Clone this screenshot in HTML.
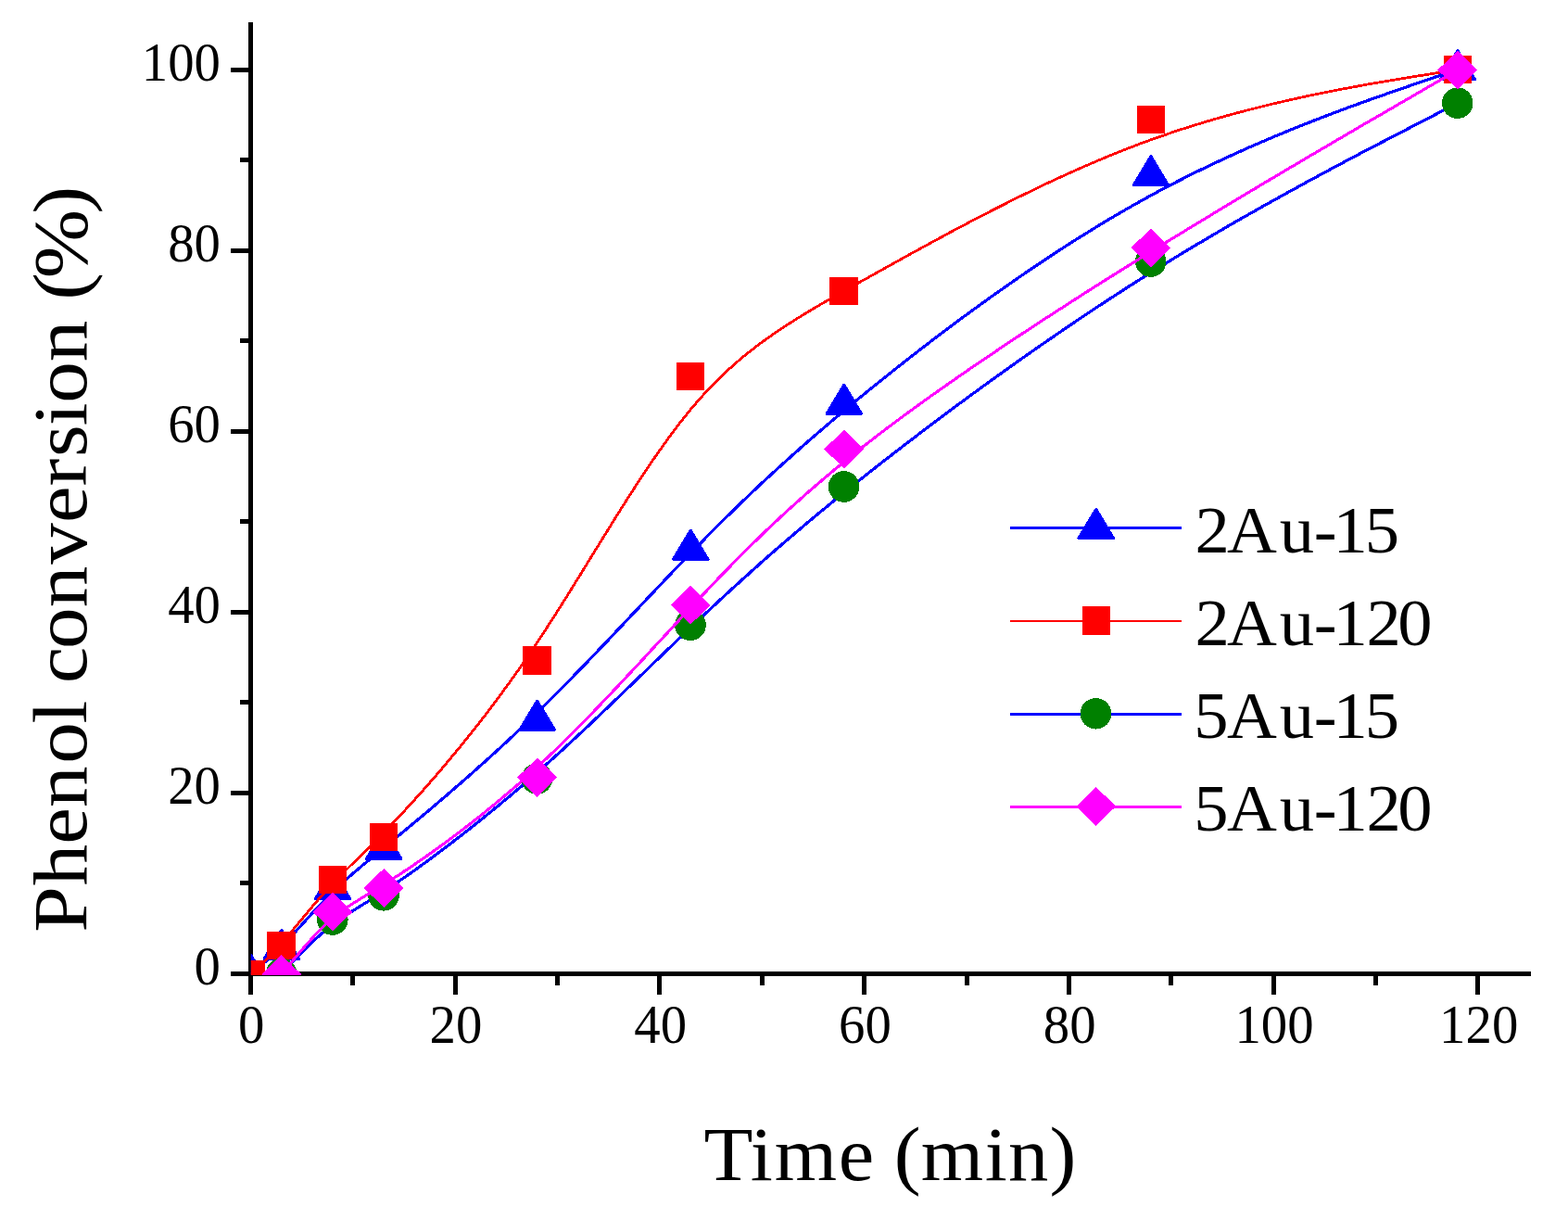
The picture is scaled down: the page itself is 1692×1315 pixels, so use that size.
<!DOCTYPE html>
<html lang="en">
<head>
<meta charset="utf-8">
<title>Phenol conversion vs time</title>
<style>
html,body{margin:0;padding:0;background:#fff;}
body{width:1692px;height:1315px;overflow:hidden;}
svg{display:block;}
text{font-family:"Liberation Serif",serif;fill:#000;}
</style>
</head>
<body>
<svg width="1692" height="1315" viewBox="0 0 1692 1315">
<rect width="1692" height="1315" fill="#fff"/>
<defs><clipPath id="plot"><rect x="270.8" y="0" width="1400" height="1052"/></clipPath></defs>

<g id="axes" stroke="#000" stroke-width="5" fill="none" stroke-linecap="butt" shape-rendering="crispEdges">
<path d="M270.5 24V1072.5"/>
<path d="M249 1050.5H1652"/>
<path d="M380.5 1050.5V1062.5"/>
<path d="M491.5 1050.5V1072.5"/>
<path d="M601.5 1050.5V1062.5"/>
<path d="M711.5 1050.5V1072.5"/>
<path d="M822.5 1050.5V1062.5"/>
<path d="M932.5 1050.5V1072.5"/>
<path d="M1043.5 1050.5V1062.5"/>
<path d="M1153.5 1050.5V1072.5"/>
<path d="M1263.5 1050.5V1062.5"/>
<path d="M1374.5 1050.5V1072.5"/>
<path d="M1484.5 1050.5V1062.5"/>
<path d="M1594.5 1050.5V1072.5"/>
<path d="M259 952.5H270.5"/>
<path d="M249 855.5H270.5"/>
<path d="M259 757.5H270.5"/>
<path d="M249 660.5H270.5"/>
<path d="M259 562.5H270.5"/>
<path d="M249 465.5H270.5"/>
<path d="M259 367.5H270.5"/>
<path d="M249 270.5H270.5"/>
<path d="M259 172.5H270.5"/>
<path d="M249 75.5H270.5"/>
</g>
<g id="xticks" font-size="58.5" text-anchor="middle">
<text x="271.2" y="1125" textLength="28.4" lengthAdjust="spacingAndGlyphs">0</text>
<text x="491.9" y="1125" textLength="56.8" lengthAdjust="spacingAndGlyphs">20</text>
<text x="712.7" y="1125" textLength="56.8" lengthAdjust="spacingAndGlyphs">40</text>
<text x="933.4" y="1125" textLength="56.8" lengthAdjust="spacingAndGlyphs">60</text>
<text x="1154.2" y="1125" textLength="56.8" lengthAdjust="spacingAndGlyphs">80</text>
<text x="1375.0" y="1125" textLength="85.2" lengthAdjust="spacingAndGlyphs">100</text>
<text x="1595.7" y="1125" textLength="85.2" lengthAdjust="spacingAndGlyphs">120</text>
</g>
<g id="yticks" font-size="58.5" text-anchor="end">
<text x="238" y="1061.8" textLength="28.4" lengthAdjust="spacingAndGlyphs">0</text>
<text x="238" y="866.8" textLength="56.8" lengthAdjust="spacingAndGlyphs">20</text>
<text x="238" y="671.8" textLength="56.8" lengthAdjust="spacingAndGlyphs">40</text>
<text x="238" y="476.8" textLength="56.8" lengthAdjust="spacingAndGlyphs">60</text>
<text x="238" y="281.8" textLength="56.8" lengthAdjust="spacingAndGlyphs">80</text>
<text x="238" y="86.8" textLength="85.2" lengthAdjust="spacingAndGlyphs">100</text>
</g>
<text id="xtitle" transform="translate(0 1273) scale(1.05 1)" font-size="82.5" x="723.3 771.1 795.9 861.7 898.3 918.9 946.4 1012.1 1036.2 1078.7" y="0">Time (min)</text>
<text id="ytitle" transform="translate(93.3 1004.1) rotate(-90) scale(1.08 1)" font-size="82.5" x="-1.6 44.9 86.4 123.3 167.1 207.1 230.0 247.1 281.6 323.1 366.1 407.5 444.2 473.2 504.4 527.2 568.4 609.7 629.9 651.7 716.4" y="0">Phenol conversion (%)</text>
<g id="data" clip-path="url(#plot)" shape-rendering="crispEdges">
<path d="M270.7 1050.5L270.7 1050.5L270.7 1050.5L270.7 1050.5L270.7 1050.5L270.7 1050.5L270.7 1050.5L270.8 1050.4L270.8 1050.4L270.9 1050.4L270.9 1050.3L271.0 1050.3L271.1 1050.2L271.2 1050.1L271.3 1050.0L271.4 1049.9L271.5 1049.8L271.7 1049.7L271.9 1049.5L272.1 1049.3L272.4 1049.2L272.6 1048.9L272.9 1048.7L273.2 1048.5L273.6 1048.2L273.9 1047.9L274.3 1047.5L274.8 1047.2L275.2 1046.8L275.7 1046.4L276.3 1046.0L276.8 1045.5L277.5 1045.0L278.1 1044.5L278.8 1043.9L279.5 1043.3L280.3 1042.7L281.1 1042.0L281.9 1041.3L282.7 1040.6L283.6 1039.8L284.6 1039.0L285.5 1038.2L286.5 1037.3L287.5 1036.4L288.6 1035.5L289.6 1034.5L290.8 1033.5L291.9 1032.5L293.1 1031.4L294.3 1030.3L295.5 1029.1L296.8 1027.9L298.0 1026.7L299.4 1025.4L300.7 1024.1L302.1 1022.7L303.5 1021.3L304.9 1019.9L306.3 1018.4L307.8 1016.9L309.3 1015.3L310.8 1013.7L312.3 1012.1L313.9 1010.4L315.5 1008.7L317.1 1006.9L318.7 1005.2L320.3 1003.4L322.0 1001.5L323.7 999.7L325.4 997.8L327.1 996.0L328.8 994.1L330.5 992.2L332.3 990.2L334.1 988.3L335.8 986.4L337.6 984.4L339.4 982.5L341.2 980.6L343.0 978.6L344.8 976.7L346.7 974.8L348.5 972.9L350.3 971.0L352.2 969.1L354.0 967.2L355.9 965.3L357.7 963.5L359.5 961.7L361.4 959.9L363.2 958.1L365.1 956.4L367.0 954.6L368.9 952.9L370.8 951.2L372.7 949.4L374.7 947.7L376.7 945.9L378.7 944.1L380.8 942.3L383.0 940.5L385.2 938.6L387.4 936.7L389.7 934.8L392.0 932.8L394.5 930.8L397.0 928.8L399.6 926.6L402.2 924.4L404.9 922.2L407.8 919.9L410.7 917.5L413.7 915.0L416.8 912.4L420.0 909.8L423.4 907.0L426.8 904.2L430.4 901.3L434.0 898.2L437.8 895.1L441.8 891.8L445.8 888.5L449.9 885.0L454.2 881.5L458.5 877.8L463.0 874.1L467.5 870.2L472.1 866.3L476.8 862.3L481.6 858.2L486.5 854.0L491.4 849.7L496.5 845.3L501.5 840.9L506.7 836.4L511.8 831.8L517.1 827.1L522.4 822.4L527.7 817.6L533.1 812.7L538.5 807.8L543.9 802.8L549.4 797.7L554.9 792.6L560.4 787.4L565.9 782.1L571.4 776.8L576.9 771.5L582.5 766.1L588.0 760.6L593.5 755.1L599.1 749.6L604.6 744.0L610.2 738.4L615.7 732.7L621.2 727.0L626.8 721.3L632.3 715.6L637.8 709.8L643.4 704.0L648.9 698.2L654.5 692.4L660.0 686.5L665.5 680.7L671.1 674.8L676.6 668.9L682.1 663.1L687.7 657.2L693.2 651.3L698.7 645.5L704.3 639.6L709.8 633.8L715.4 627.9L720.9 622.1L726.4 616.3L732.0 610.5L737.5 604.8L743.0 599.1L748.6 593.4L754.1 587.7L759.7 582.1L765.2 576.4L770.8 570.8L776.4 565.2L782.1 559.6L787.8 554.0L793.5 548.4L799.3 542.8L805.2 537.2L811.1 531.5L817.1 525.9L823.1 520.2L829.3 514.5L835.5 508.8L841.9 503.0L848.3 497.2L854.9 491.3L861.5 485.4L868.3 479.4L875.2 473.4L882.3 467.3L889.5 461.1L896.8 454.8L904.3 448.5L911.9 442.1L919.8 435.6L927.7 429.1L935.9 422.4L944.2 415.6L952.8 408.8L961.5 401.8L970.3 394.8L979.3 387.7L988.5 380.6L997.9 373.3L1007.3 366.1L1017.0 358.8L1026.7 351.5L1036.6 344.1L1046.6 336.8L1056.7 329.5L1066.9 322.1L1077.2 314.8L1087.6 307.5L1098.1 300.2L1108.7 292.9L1119.3 285.8L1130.0 278.6L1140.8 271.5L1151.6 264.5L1162.5 257.6L1173.5 250.8L1184.4 244.0L1195.4 237.4L1206.5 230.9L1217.5 224.5L1228.6 218.2L1239.7 212.1L1250.7 206.1L1261.8 200.3L1272.8 194.6L1283.8 189.0L1294.8 183.6L1305.7 178.4L1316.5 173.3L1327.3 168.3L1337.9 163.5L1348.4 158.8L1358.9 154.3L1369.1 149.9L1379.3 145.6L1389.2 141.5L1399.1 137.5L1408.7 133.7L1418.1 130.0L1427.3 126.4L1436.3 123.0L1445.1 119.7L1453.6 116.5L1461.9 113.5L1469.9 110.6L1477.6 107.8L1485.0 105.2L1492.1 102.7L1498.9 100.3L1505.3 98.1L1511.5 96.0L1517.2 94.0L1522.6 92.1L1527.6 90.4L1532.3 88.8L1536.7 87.3L1540.7 85.9L1544.4 84.6L1547.8 83.4L1551.0 82.4L1553.8 81.4L1556.4 80.5L1558.8 79.7L1560.9 78.9L1562.8 78.3L1564.5 77.7L1566.0 77.2L1567.3 76.8L1568.4 76.4L1569.4 76.0L1570.2 75.7L1570.9 75.5L1571.4 75.3L1571.9 75.2L1572.2 75.0L1572.5 75.0L1572.7 74.9L1572.8 74.8L1572.9 74.8L1572.9 74.8L1572.9 74.8L1572.9 74.8" fill="none" stroke="#0000ff" stroke-width="3.2" stroke-linejoin="round"/>
<path d="M270.7 1030.4L289.5 1061.5L251.9 1061.5Z" fill="#0000ff" stroke="#0000ff" stroke-width="3.0" stroke-linejoin="round"/>
<path d="M303.8 1003.4L322.6 1034.5L285.0 1034.5Z" fill="#0000ff" stroke="#0000ff" stroke-width="3.0" stroke-linejoin="round"/>
<path d="M359.0 938.5L377.8 969.6L340.2 969.6Z" fill="#0000ff" stroke="#0000ff" stroke-width="3.0" stroke-linejoin="round"/>
<path d="M414.2 895.4L433.0 926.5L395.4 926.5Z" fill="#0000ff" stroke="#0000ff" stroke-width="3.0" stroke-linejoin="round"/>
<path d="M579.7 756.1L598.5 787.2L560.9 787.2Z" fill="#0000ff" stroke="#0000ff" stroke-width="3.0" stroke-linejoin="round"/>
<path d="M745.2 572.2L764.0 603.3L726.4 603.3Z" fill="#0000ff" stroke="#0000ff" stroke-width="3.0" stroke-linejoin="round"/>
<path d="M910.8 415.2L929.6 446.3L892.0 446.3Z" fill="#0000ff" stroke="#0000ff" stroke-width="3.0" stroke-linejoin="round"/>
<path d="M1241.9 168.7L1260.7 199.8L1223.1 199.8Z" fill="#0000ff" stroke="#0000ff" stroke-width="3.0" stroke-linejoin="round"/>
<path d="M1572.9 54.7L1591.7 85.8L1554.1 85.8Z" fill="#0000ff" stroke="#0000ff" stroke-width="3.0" stroke-linejoin="round"/>
<path d="M270.7 1051.0L270.7 1051.0L270.7 1051.0L270.7 1051.0L270.7 1051.0L270.7 1051.0L270.7 1051.0L270.8 1050.9L270.8 1050.9L270.9 1050.9L270.9 1050.8L271.0 1050.7L271.1 1050.7L271.2 1050.6L271.3 1050.5L271.4 1050.3L271.5 1050.2L271.7 1050.1L271.9 1049.9L272.1 1049.7L272.4 1049.5L272.6 1049.2L272.9 1048.9L273.2 1048.6L273.6 1048.3L273.9 1048.0L274.3 1047.6L274.8 1047.2L275.2 1046.8L275.7 1046.3L276.3 1045.8L276.8 1045.2L277.5 1044.7L278.1 1044.1L278.8 1043.4L279.5 1042.7L280.3 1042.0L281.1 1041.3L281.9 1040.5L282.7 1039.6L283.6 1038.8L284.6 1037.9L285.5 1036.9L286.5 1035.9L287.5 1034.9L288.6 1033.9L289.6 1032.8L290.8 1031.6L291.9 1030.4L293.1 1029.2L294.3 1028.0L295.5 1026.6L296.8 1025.3L298.0 1023.9L299.4 1022.5L300.7 1021.0L302.1 1019.5L303.5 1017.9L304.9 1016.3L306.3 1014.7L307.8 1013.0L309.3 1011.3L310.8 1009.5L312.3 1007.7L313.9 1005.8L315.5 1003.9L317.1 1002.0L318.7 1000.0L320.3 998.1L322.0 996.1L323.7 994.0L325.4 992.0L327.1 989.9L328.8 987.9L330.5 985.8L332.3 983.7L334.1 981.6L335.8 979.4L337.6 977.3L339.4 975.2L341.2 973.1L343.0 971.0L344.8 968.9L346.7 966.8L348.5 964.7L350.3 962.6L352.2 960.6L354.0 958.5L355.9 956.5L357.7 954.5L359.5 952.6L361.4 950.6L363.2 948.7L365.1 946.8L367.0 944.9L368.9 943.0L370.8 941.1L372.7 939.2L374.7 937.3L376.7 935.3L378.7 933.3L380.8 931.3L383.0 929.2L385.2 927.1L387.4 925.0L389.7 922.7L392.0 920.4L394.5 918.0L397.0 915.6L399.6 913.0L402.2 910.4L404.9 907.6L407.8 904.8L410.7 901.8L413.7 898.7L416.8 895.5L420.0 892.1L423.4 888.6L426.8 885.0L430.4 881.2L434.0 877.3L437.8 873.2L441.8 868.9L445.8 864.5L449.9 859.9L454.2 855.2L458.5 850.3L463.0 845.2L467.5 840.0L472.1 834.7L476.8 829.2L481.6 823.5L486.5 817.7L491.4 811.7L496.5 805.6L501.5 799.4L506.7 793.0L511.8 786.5L517.1 779.8L522.4 773.0L527.7 766.0L533.1 758.9L538.5 751.7L543.9 744.3L549.4 736.8L554.9 729.1L560.4 721.3L565.9 713.4L571.4 705.4L576.9 697.2L582.5 688.9L588.0 680.4L593.5 671.9L599.1 663.2L604.6 654.5L610.2 645.7L615.7 636.8L621.2 627.9L626.8 619.0L632.3 610.0L637.8 601.0L643.4 592.0L648.9 583.1L654.5 574.1L660.0 565.2L665.5 556.3L671.1 547.5L676.6 538.8L682.1 530.2L687.7 521.6L693.2 513.2L698.7 504.9L704.3 496.7L709.8 488.7L715.4 480.9L720.9 473.2L726.4 465.7L732.0 458.4L737.5 451.3L743.0 444.4L748.6 437.8L754.1 431.4L759.7 425.2L765.2 419.2L770.8 413.4L776.4 407.8L782.1 402.4L787.8 397.2L793.5 392.1L799.3 387.1L805.2 382.3L811.1 377.6L817.1 373.0L823.1 368.5L829.3 364.1L835.5 359.7L841.9 355.4L848.3 351.2L854.9 347.0L861.5 342.8L868.3 338.6L875.2 334.5L882.3 330.3L889.5 326.1L896.8 321.9L904.3 317.6L911.9 313.3L919.8 308.9L927.7 304.4L935.9 299.9L944.2 295.2L952.8 290.5L961.5 285.6L970.3 280.7L979.3 275.7L988.5 270.7L997.9 265.6L1007.3 260.4L1017.0 255.2L1026.7 249.9L1036.6 244.7L1046.6 239.4L1056.7 234.1L1066.9 228.9L1077.2 223.6L1087.6 218.4L1098.1 213.1L1108.7 208.0L1119.3 202.8L1130.0 197.7L1140.8 192.7L1151.6 187.8L1162.5 182.9L1173.5 178.1L1184.4 173.4L1195.4 168.8L1206.5 164.3L1217.5 160.0L1228.6 155.7L1239.7 151.6L1250.7 147.7L1261.8 143.9L1272.8 140.2L1283.8 136.7L1294.8 133.3L1305.7 130.0L1316.5 126.9L1327.3 123.9L1337.9 121.0L1348.4 118.3L1358.9 115.6L1369.1 113.1L1379.3 110.7L1389.2 108.4L1399.1 106.2L1408.7 104.1L1418.1 102.1L1427.3 100.2L1436.3 98.4L1445.1 96.7L1453.6 95.1L1461.9 93.6L1469.9 92.1L1477.6 90.7L1485.0 89.5L1492.1 88.2L1498.9 87.1L1505.3 86.0L1511.5 85.0L1517.2 84.1L1522.6 83.2L1527.6 82.4L1532.3 81.6L1536.7 80.9L1540.7 80.3L1544.4 79.7L1547.8 79.1L1551.0 78.6L1553.8 78.1L1556.4 77.7L1558.8 77.3L1560.9 77.0L1562.8 76.7L1564.5 76.4L1566.0 76.1L1567.3 75.9L1568.4 75.7L1569.4 75.6L1570.2 75.4L1570.9 75.3L1571.4 75.2L1571.9 75.2L1572.2 75.1L1572.5 75.1L1572.7 75.0L1572.8 75.0L1572.9 75.0L1572.9 75.0L1572.9 75.0L1572.9 75.0" fill="none" stroke="#ff0000" stroke-width="2.8" stroke-linejoin="round"/>
<rect x="255.3" y="1035.7" width="30.6" height="30.7" fill="#ff0000"/>
<rect x="288.4" y="1004.7" width="30.6" height="30.7" fill="#ff0000"/>
<rect x="343.6" y="933.7" width="30.6" height="30.7" fill="#ff0000"/>
<rect x="398.8" y="887.7" width="30.6" height="30.7" fill="#ff0000"/>
<rect x="564.3" y="697.0" width="30.6" height="30.7" fill="#ff0000"/>
<rect x="729.8" y="390.7" width="30.6" height="30.7" fill="#ff0000"/>
<rect x="895.4" y="298.7" width="30.6" height="30.7" fill="#ff0000"/>
<rect x="1226.5" y="113.7" width="30.6" height="30.7" fill="#ff0000"/>
<rect x="1557.5" y="59.7" width="30.6" height="30.7" fill="#ff0000"/>
<path d="M303.8 1050.2L303.8 1050.2L303.8 1050.2L303.8 1050.2L303.8 1050.2L303.8 1050.2L303.9 1050.1L303.9 1050.1L303.9 1050.1L304.0 1050.0L304.1 1049.9L304.1 1049.8L304.2 1049.7L304.4 1049.6L304.5 1049.5L304.7 1049.3L304.8 1049.1L305.0 1048.9L305.3 1048.7L305.5 1048.4L305.8 1048.1L306.1 1047.8L306.5 1047.4L306.9 1047.0L307.3 1046.5L307.7 1046.1L308.2 1045.6L308.7 1045.0L309.3 1044.4L309.9 1043.7L310.6 1043.1L311.3 1042.3L312.0 1041.5L312.8 1040.7L313.7 1039.8L314.6 1038.9L315.5 1037.9L316.5 1036.8L317.5 1035.8L318.6 1034.6L319.7 1033.5L320.9 1032.3L322.1 1031.1L323.3 1029.8L324.5 1028.5L325.8 1027.2L327.2 1025.9L328.5 1024.5L329.9 1023.1L331.3 1021.7L332.8 1020.3L334.3 1018.9L335.8 1017.5L337.3 1016.0L338.8 1014.6L340.4 1013.2L341.9 1011.7L343.5 1010.3L345.1 1008.8L346.7 1007.4L348.4 1006.0L350.0 1004.6L351.6 1003.2L353.3 1001.9L354.9 1000.5L356.6 999.2L358.2 997.9L359.9 996.6L361.6 995.4L363.2 994.2L364.9 993.0L366.6 991.8L368.3 990.6L370.0 989.5L371.8 988.3L373.5 987.2L375.3 986.0L377.1 984.8L379.0 983.7L380.8 982.5L382.8 981.3L384.7 980.1L386.7 978.8L388.8 977.6L390.9 976.3L393.0 974.9L395.2 973.6L397.5 972.2L399.8 970.7L402.2 969.2L404.7 967.6L407.2 966.0L409.8 964.4L412.5 962.6L415.3 960.8L418.1 959.0L421.0 957.0L424.0 955.0L427.2 952.9L430.4 950.7L433.7 948.4L437.1 946.1L440.6 943.6L444.2 941.1L447.9 938.5L451.6 935.8L455.5 933.0L459.4 930.1L463.4 927.2L467.5 924.1L471.7 921.0L475.9 917.9L480.2 914.6L484.6 911.3L489.0 907.9L493.4 904.5L498.0 901.0L502.5 897.4L507.2 893.8L511.8 890.1L516.6 886.3L521.3 882.5L526.1 878.6L530.9 874.7L535.8 870.7L540.6 866.7L545.5 862.6L550.5 858.5L555.4 854.3L560.4 850.1L565.3 845.9L570.3 841.6L575.3 837.2L580.3 832.9L585.2 828.5L590.2 824.0L595.2 819.5L600.2 815.0L605.2 810.5L610.2 805.9L615.1 801.3L620.1 796.7L625.1 792.1L630.1 787.4L635.1 782.7L640.1 778.0L645.0 773.3L650.0 768.6L655.0 763.8L660.0 759.0L665.0 754.3L670.0 749.5L674.9 744.7L679.9 739.9L684.9 735.1L689.9 730.3L694.9 725.5L699.8 720.7L704.8 715.8L709.8 711.0L714.8 706.2L719.8 701.4L724.8 696.6L729.7 691.8L734.7 687.1L739.7 682.3L744.7 677.6L749.7 672.8L754.7 668.1L759.7 663.4L764.7 658.7L769.7 654.0L774.7 649.3L779.8 644.6L784.9 639.9L790.1 635.1L795.3 630.4L800.5 625.6L805.8 620.9L811.1 616.1L816.5 611.3L821.9 606.4L827.4 601.6L833.0 596.7L838.7 591.7L844.4 586.8L850.3 581.7L856.2 576.7L862.2 571.6L868.3 566.4L874.5 561.2L880.9 555.9L887.3 550.6L893.9 545.2L900.5 539.7L907.3 534.2L914.3 528.6L921.3 522.9L928.5 517.2L935.9 511.3L943.4 505.4L951.0 499.4L958.8 493.4L966.8 487.2L974.8 481.0L983.0 474.7L991.3 468.4L999.7 462.0L1008.3 455.5L1017.0 449.0L1025.7 442.5L1034.6 435.9L1043.6 429.3L1052.6 422.7L1061.8 416.0L1071.0 409.4L1080.3 402.7L1089.7 396.0L1099.1 389.3L1108.7 382.6L1118.2 375.9L1127.9 369.2L1137.6 362.5L1147.3 355.9L1157.1 349.2L1166.9 342.6L1176.7 336.1L1186.6 329.5L1196.5 323.0L1206.5 316.6L1216.4 310.1L1226.4 303.8L1236.3 297.5L1246.3 291.3L1256.3 285.1L1266.2 279.0L1276.1 273.0L1286.0 267.0L1295.9 261.2L1305.7 255.4L1315.4 249.7L1325.1 244.0L1334.7 238.5L1344.2 233.1L1353.7 227.7L1363.0 222.5L1372.2 217.3L1381.3 212.3L1390.2 207.3L1399.1 202.5L1407.7 197.7L1416.2 193.1L1424.6 188.6L1432.8 184.2L1440.7 179.9L1448.5 175.8L1456.1 171.8L1463.5 167.9L1470.6 164.1L1477.6 160.5L1484.3 157.0L1490.7 153.7L1496.9 150.5L1502.8 147.4L1508.4 144.5L1513.8 141.7L1518.9 139.1L1523.6 136.6L1528.1 134.3L1532.3 132.2L1536.2 130.1L1539.9 128.2L1543.3 126.5L1546.5 124.8L1549.4 123.3L1552.1 121.9L1554.6 120.6L1556.9 119.5L1559.0 118.4L1560.9 117.4L1562.6 116.5L1564.2 115.7L1565.6 115.0L1566.8 114.4L1567.9 113.8L1568.8 113.3L1569.6 112.9L1570.3 112.5L1570.9 112.2L1571.4 112.0L1571.9 111.8L1572.2 111.6L1572.4 111.5L1572.6 111.4L1572.8 111.3L1572.9 111.2L1572.9 111.2L1572.9 111.2L1572.9 111.2L1572.9 111.2" fill="none" stroke="#0000ff" stroke-width="3.2" stroke-linejoin="round"/>
<circle cx="303.6" cy="1050.2" r="16.8" fill="#008000"/>
<circle cx="358.8" cy="992.0" r="16.8" fill="#008000"/>
<circle cx="414.0" cy="965.8" r="16.8" fill="#008000"/>
<circle cx="579.5" cy="840.0" r="16.8" fill="#008000"/>
<circle cx="745.0" cy="674.3" r="16.8" fill="#008000"/>
<circle cx="910.6" cy="525.0" r="16.8" fill="#008000"/>
<circle cx="1241.7" cy="282.0" r="16.8" fill="#008000"/>
<circle cx="1572.7" cy="111.2" r="16.8" fill="#008000"/>
<path d="M303.8 1051.2L303.8 1051.2L303.8 1051.2L303.8 1051.2L303.8 1051.2L303.8 1051.2L303.9 1051.1L303.9 1051.1L303.9 1051.0L304.0 1051.0L304.1 1050.9L304.1 1050.8L304.2 1050.7L304.4 1050.5L304.5 1050.4L304.7 1050.2L304.8 1049.9L305.0 1049.7L305.3 1049.4L305.5 1049.1L305.8 1048.7L306.1 1048.4L306.5 1047.9L306.9 1047.5L307.3 1047.0L307.7 1046.4L308.2 1045.8L308.7 1045.2L309.3 1044.5L309.9 1043.7L310.6 1042.9L311.3 1042.0L312.0 1041.1L312.8 1040.2L313.7 1039.1L314.6 1038.0L315.5 1036.9L316.5 1035.7L317.5 1034.4L318.6 1033.1L319.7 1031.8L320.9 1030.4L322.1 1029.0L323.3 1027.5L324.5 1026.0L325.8 1024.5L327.2 1023.0L328.5 1021.4L329.9 1019.8L331.3 1018.2L332.8 1016.6L334.3 1015.0L335.8 1013.3L337.3 1011.7L338.8 1010.0L340.4 1008.4L341.9 1006.8L343.5 1005.1L345.1 1003.5L346.7 1001.9L348.4 1000.3L350.0 998.7L351.6 997.2L353.3 995.6L354.9 994.1L356.6 992.6L358.2 991.2L359.9 989.8L361.6 988.4L363.2 987.1L364.9 985.8L366.6 984.5L368.3 983.3L370.0 982.0L371.8 980.8L373.5 979.6L375.3 978.4L377.1 977.2L379.0 975.9L380.8 974.7L382.8 973.5L384.7 972.3L386.7 971.0L388.8 969.7L390.9 968.5L393.0 967.1L395.2 965.8L397.5 964.4L399.8 963.0L402.2 961.5L404.7 960.0L407.2 958.4L409.8 956.8L412.5 955.2L415.3 953.4L418.1 951.6L421.0 949.8L424.0 947.8L427.2 945.8L430.4 943.8L433.7 941.6L437.1 939.3L440.6 937.0L444.2 934.6L447.9 932.1L451.6 929.5L455.5 926.8L459.4 924.1L463.4 921.3L467.5 918.4L471.7 915.4L475.9 912.3L480.2 909.2L484.6 906.0L489.0 902.7L493.4 899.4L498.0 895.9L502.5 892.4L507.2 888.8L511.8 885.2L516.6 881.5L521.3 877.7L526.1 873.8L530.9 869.9L535.8 865.9L540.6 861.9L545.5 857.7L550.5 853.5L555.4 849.3L560.4 845.0L565.3 840.6L570.3 836.1L575.3 831.6L580.3 827.1L585.2 822.4L590.2 817.7L595.2 813.0L600.2 808.2L605.2 803.4L610.2 798.5L615.1 793.5L620.1 788.5L625.1 783.5L630.1 778.4L635.1 773.3L640.1 768.2L645.0 763.0L650.0 757.8L655.0 752.6L660.0 747.3L665.0 742.0L670.0 736.7L674.9 731.4L679.9 726.1L684.9 720.7L689.9 715.4L694.9 710.0L699.8 704.6L704.8 699.2L709.8 693.8L714.8 688.5L719.8 683.1L724.8 677.7L729.7 672.3L734.7 667.0L739.7 661.6L744.7 656.3L749.7 650.9L754.7 645.6L759.7 640.3L764.7 635.0L769.7 629.8L774.7 624.5L779.8 619.2L784.9 614.0L790.1 608.7L795.3 603.4L800.5 598.2L805.8 592.9L811.1 587.6L816.5 582.4L821.9 577.1L827.4 571.8L833.0 566.5L838.7 561.2L844.4 555.8L850.3 550.4L856.2 545.1L862.2 539.7L868.3 534.2L874.5 528.8L880.9 523.3L887.3 517.8L893.9 512.3L900.5 506.7L907.3 501.1L914.3 495.4L921.3 489.8L928.5 484.0L935.9 478.3L943.4 472.5L951.0 466.6L958.8 460.7L966.8 454.8L974.8 448.8L983.0 442.8L991.3 436.8L999.7 430.7L1008.3 424.6L1017.0 418.5L1025.7 412.4L1034.6 406.2L1043.6 400.0L1052.6 393.8L1061.8 387.6L1071.0 381.4L1080.3 375.1L1089.7 368.8L1099.1 362.6L1108.7 356.3L1118.2 350.0L1127.9 343.7L1137.6 337.5L1147.3 331.2L1157.1 324.9L1166.9 318.6L1176.7 312.3L1186.6 306.1L1196.5 299.8L1206.5 293.6L1216.4 287.4L1226.4 281.2L1236.3 275.0L1246.3 268.9L1256.3 262.7L1266.2 256.6L1276.1 250.6L1286.0 244.5L1295.9 238.5L1305.7 232.6L1315.4 226.7L1325.1 220.9L1334.7 215.1L1344.2 209.4L1353.7 203.8L1363.0 198.2L1372.2 192.7L1381.3 187.4L1390.2 182.0L1399.1 176.8L1407.7 171.7L1416.2 166.7L1424.6 161.8L1432.8 157.0L1440.7 152.3L1448.5 147.8L1456.1 143.3L1463.5 139.0L1470.6 134.8L1477.6 130.8L1484.3 126.9L1490.7 123.2L1496.9 119.6L1502.8 116.2L1508.4 112.9L1513.8 109.8L1518.9 106.8L1523.6 104.1L1528.1 101.5L1532.3 99.1L1536.2 96.8L1539.9 94.6L1543.3 92.7L1546.5 90.8L1549.4 89.1L1552.1 87.6L1554.6 86.1L1556.9 84.8L1559.0 83.6L1560.9 82.5L1562.6 81.5L1564.2 80.6L1565.6 79.8L1566.8 79.1L1567.9 78.4L1568.8 77.9L1569.6 77.4L1570.3 77.0L1570.9 76.7L1571.4 76.4L1571.9 76.1L1572.2 75.9L1572.4 75.8L1572.6 75.7L1572.8 75.6L1572.9 75.6L1572.9 75.5L1572.9 75.5L1572.9 75.5L1572.9 75.5" fill="none" stroke="#ff00ff" stroke-width="3.1" stroke-linejoin="round"/>
<path d="M303.8 1030.2L325.3 1051.2L303.8 1072.2L282.3 1051.2Z" fill="#ff00ff"/>
<path d="M359.0 962.6L380.5 983.6L359.0 1004.6L337.5 983.6Z" fill="#ff00ff"/>
<path d="M414.2 936.9L435.7 957.9L414.2 978.9L392.7 957.9Z" fill="#ff00ff"/>
<path d="M579.7 817.7L601.2 838.7L579.7 859.7L558.2 838.7Z" fill="#ff00ff"/>
<path d="M745.2 631.7L766.7 652.7L745.2 673.7L723.7 652.7Z" fill="#ff00ff"/>
<path d="M910.8 463.5L932.3 484.5L910.8 505.5L889.3 484.5Z" fill="#ff00ff"/>
<path d="M1241.9 246.4L1263.4 267.4L1241.9 288.4L1220.4 267.4Z" fill="#ff00ff"/>
<path d="M1572.9 54.5L1594.4 75.5L1572.9 96.5L1551.4 75.5Z" fill="#ff00ff"/>
</g>
<g id="legend" shape-rendering="crispEdges">
<path d="M1090 569.5H1275" stroke="#0000ff" stroke-width="3" fill="none"/>
<path d="M1182.7 549.4L1201.5 580.5L1163.9 580.5Z" fill="#0000ff" stroke="#0000ff" stroke-width="3.0" stroke-linejoin="round"/>
<text  transform="translate(0 596.2) scale(1.05 1)" font-size="71" x="1228.0 1260.9 1314.9 1350.3 1370.0 1402.7" y="0">2Au-15</text>
<path d="M1090 670H1275" stroke="#ff0000" stroke-width="2" fill="none"/>
<rect x="1167.6" y="654.2" width="30.6" height="30.7" fill="#ff0000"/>
<text  transform="translate(0 696.0) scale(1.05 1)" font-size="71" x="1228.0 1260.9 1314.9 1350.3 1370.0 1404.2 1436.4" y="0">2Au-120</text>
<path d="M1090 770.5H1275" stroke="#0000ff" stroke-width="3" fill="none"/>
<circle cx="1182.5" cy="769.8" r="16.8" fill="#008000"/>
<text  transform="translate(0 796.2) scale(1.05 1)" font-size="71" x="1227.0 1260.9 1314.9 1350.3 1370.0 1402.7" y="0">5Au-15</text>
<path d="M1090 870.5H1275" stroke="#ff00ff" stroke-width="3" fill="none"/>
<path d="M1182.7 848.9L1204.2 869.9L1182.7 890.9L1161.2 869.9Z" fill="#ff00ff"/>
<text  transform="translate(0 895.9) scale(1.05 1)" font-size="71" x="1227.0 1260.9 1314.9 1350.3 1370.0 1404.2 1436.4" y="0">5Au-120</text>
</g>
</svg>
</body>
</html>
